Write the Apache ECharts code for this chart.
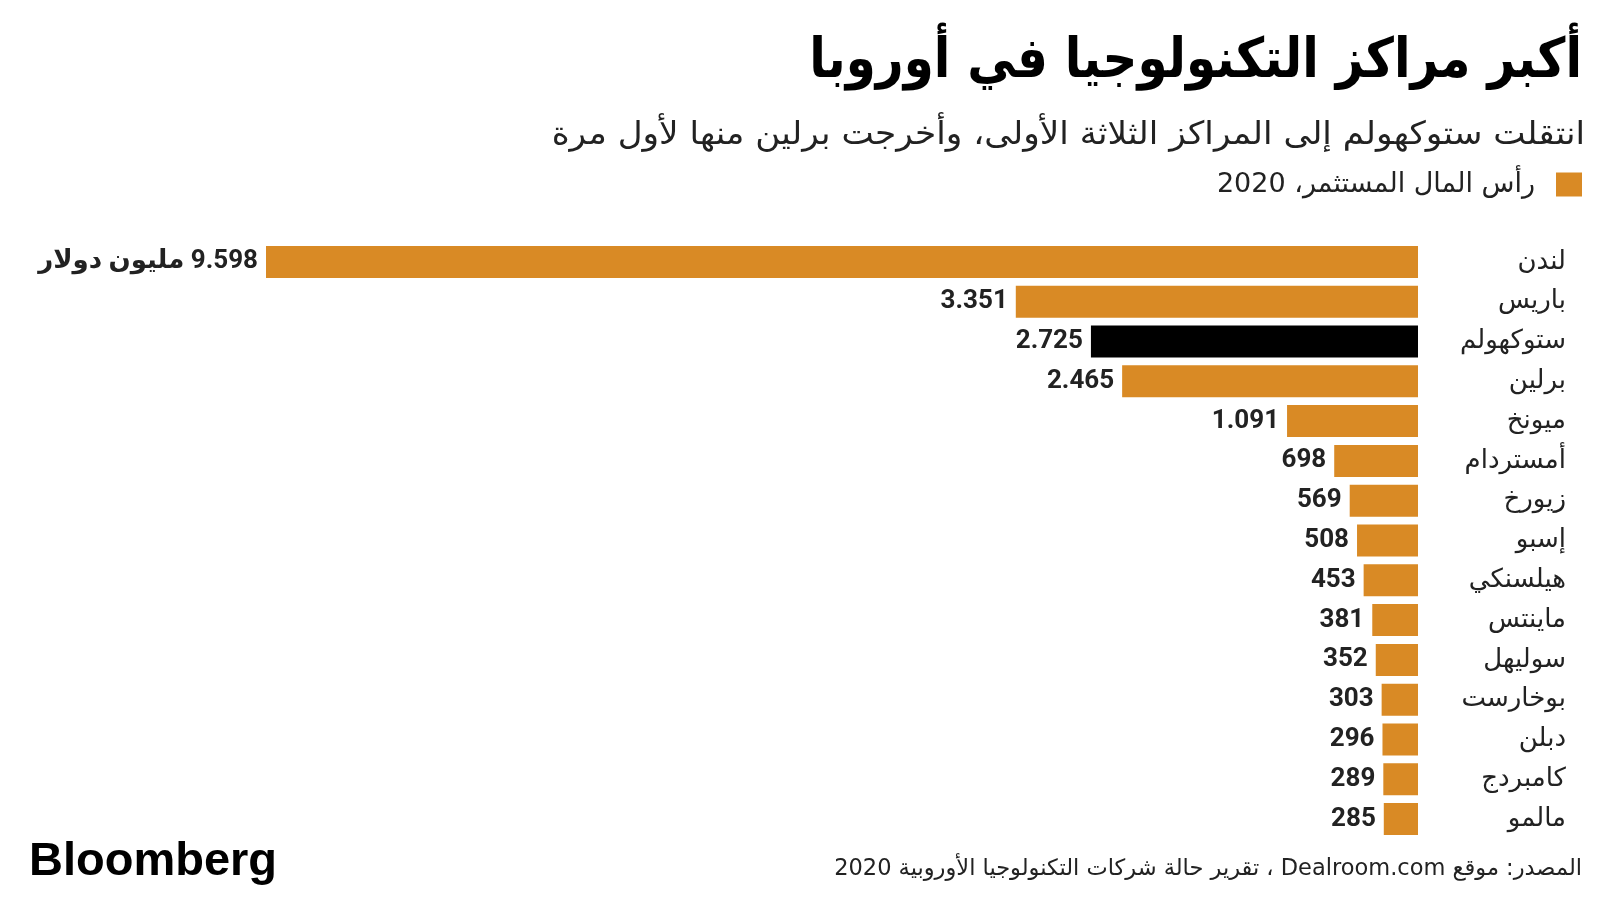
<!DOCTYPE html>
<html>
<head>
<meta charset="utf-8">
<script src="https://cdn.jsdelivr.net/npm/echarts@6/dist/echarts.min.js"></script>
<style>
html,body{margin:0;padding:0;background:#fff;}
#chart{width:1600px;height:900px;}
</style>
</head>
<body>
<div id="chart"></div>
<script>
var cities = ['لندن','باريس','ستوكهولم','برلين','ميونخ','أمستردام','زيورخ','إسبو','هيلسنكي','ماينتس','سوليهل','بوخارست','دبلن','كامبردج','مالمو'];
var values = [9598,3351,2725,2465,1091,698,569,508,453,381,352,303,296,289,285];
var highlightCity = 'ستوكهولم';
var seriesName = 'رأس المال المستثمر، 2020';
var unitText = 'مليون دولار';
var titleText = 'أكبر مراكز التكنولوجيا في أوروبا';
var subtitleText = 'انتقلت ستوكهولم إلى المراكز الثلاثة الأولى، وأخرجت برلين منها لأول مرة';
var sourceText = 'المصدر: موقع Dealroom.com ، تقرير حالة شركات التكنولوجيا الأوروبية 2020';

var ORANGE = '#d98a25';
var AR = '"DejaVu Sans", "Noto Sans", sans-serif';
var RLE = '\u202B', PDF = '\u202C';

function fmt(v){
  if (v >= 1000) { var r = String(v % 1000); while (r.length < 3) r = '0' + r; return Math.floor(v/1000) + '.' + r; }
  return String(v);
}

var chart = echarts.init(document.getElementById('chart'), null, {renderer:'canvas'});
chart.setOption({
  backgroundColor: '#ffffff',
  animation: false,
  grid: {left: 266, right: 182, top: 242, height: 597, containLabel: false},
  legend: {
    right: 18, top: 171, padding: 0, align: 'right', icon: 'rect', itemWidth: 26, itemHeight: 24,
    data: [seriesName],
    textStyle: {fontFamily: AR, fontSize: 27, color: '#222', padding: [0, 16, 0, 0]}
  },
  xAxis: {type: 'value', inverse: true, min: 0, max: 9598, show: false},
  yAxis: {
    type: 'category', inverse: true, position: 'right', data: cities,
    axisLine: {show: false}, axisTick: {show: false},
    axisLabel: {align: 'right', margin: 148, fontFamily: AR, fontSize: 26, color: '#222'}
  },
  series: [{
    name: seriesName, type: 'bar', barWidth: 32,
    itemStyle: {color: ORANGE},
    data: values.map(function(v, i){
      return cities[i] === highlightCity ? {value: v, itemStyle: {color: '#000'}} : v;
    }),
    label: {
      show: true, position: 'left', distance: 8,
      fontFamily: '"Roboto", "DejaVu Sans", sans-serif', fontWeight: 'bold', fontSize: 26, color: '#222',
      formatter: function(p){ return p.dataIndex === 0 ? RLE + fmt(p.value) + ' ' + unitText + PDF : fmt(p.value); }
    }
  }],
  graphic: [
    {type: 'text', x: 1582, y: 35, scaleX: 0.88, style: {text: titleText, font: 'bold 55px ' + AR, fill: '#000', align: 'right', verticalAlign: 'top'}},
    {type: 'text', x: 1585, y: 120, scaleX: 1.07, style: {text: subtitleText, font: '32px ' + AR, fill: '#222', align: 'right', verticalAlign: 'top'}},
    {type: 'text', x: 29, y: 839, style: {text: 'Bloomberg', font: 'bold 47px "Liberation Sans", Arial, sans-serif', fill: '#000', align: 'left', verticalAlign: 'top'}},
    {type: 'text', x: 1582, y: 858, style: {text: RLE + sourceText + PDF, font: '22.5px ' + AR, fill: '#222', align: 'right', verticalAlign: 'top'}}
  ]
});
</script>
</body>
</html>
